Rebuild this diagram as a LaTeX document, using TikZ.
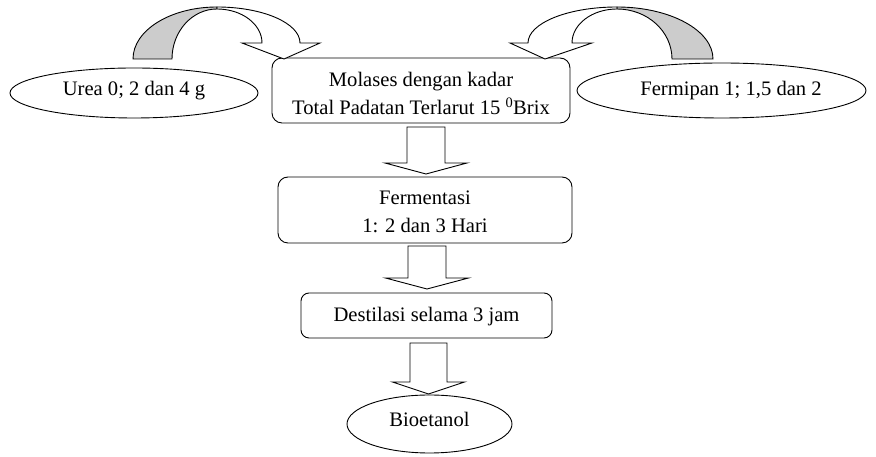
\documentclass[tikz,border=0pt]{standalone}
\usepackage{fontspec}
\setmainfont{Liberation Serif}
\usetikzlibrary{shapes.geometric}
\begin{document}
\begin{tikzpicture}[x=1pt,y=1pt,
  txtfont/.style={font=\fontsize{20.6}{28}\selectfont},
  proc/.style={draw, line width=0.9pt, rounded corners=10pt, align=center, inner sep=0pt, txtfont},
  oval/.style={draw, line width=0.9pt, ellipse, inner sep=0pt, txtfont},
  blk/.style={draw, fill=white, line width=0.9pt, line join=miter},
  backside/.style={draw, fill=black!20, line width=0.9pt},
  pics/downarrow/.style n args={4}{code={
    \draw[blk] (-#1,0) -- (-#1,-#3) -- (-#2,-#3) -- (0,-#4) -- (#2,-#3) -- (#1,-#3) -- (#1,0) -- cycle;}}]
\useasboundingbox (0,0) rectangle (876,457);

% process boxes
\node[proc, minimum width=298pt, minimum height=65pt, text height=49pt, text depth=0pt] (b1) at (421,366.5)
  {Molases dengan kadar\\Total Padatan Terlarut 15 \textsuperscript{0}Brix};
\node[proc, minimum width=294pt, minimum height=66pt, text height=46pt, text depth=0pt] (b2) at (425,247)
  {Fermentasi\\1: 2 dan 3 Hari};
\node[proc, rounded corners=8pt, minimum width=251pt, minimum height=45pt, text height=14pt, text depth=1pt] (b3) at (426.5,141.5)
  {Destilasi selama 3 jam};

% ellipses
\node[oval, minimum width=248pt, minimum height=50pt, text height=10pt, text depth=4pt] (urea) at (134,364)
  {Urea 0; 2 dan 4 g};
\node[oval, minimum width=289pt, minimum height=55pt, text height=14pt, text depth=3pt] (ferm) at (721.5,366.5)
  {\hspace*{19pt}Fermipan 1; 1,5 dan 2};
\node[oval, minimum width=165pt, minimum height=58pt, text height=12pt, text depth=6pt] (bio) at (429.5,33)
  {Bioetanol};

% block arrows between steps
\pic at (426,330) {downarrow={19}{41}{36}{47}};
\pic at (427,211) {downarrow={19}{41.5}{32}{43}};
\pic at (428.5,114) {downarrow={18.5}{36}{39}{51}};

% left curved arrow (urea -> b1)
\draw[backside] (133,398) arc[start angle=180, end angle=90, x radius=84, y radius=52]
  -- (217,448) arc[start angle=90, end angle=180, x radius=45, y radius=50] -- cycle;
\draw[blk] (217,450) arc[start angle=90, end angle=0, x radius=83, y radius=36]
  -- (320,414) -- (284,398) -- (242,414) -- (262,414)
  arc[start angle=0, end angle=90, x radius=45, y radius=34] -- cycle;

% right curved arrow (ferm -> b1)
\draw[backside] (713,398) arc[start angle=0, end angle=90, x radius=96, y radius=52]
  -- (617,448) arc[start angle=90, end angle=0, x radius=55, y radius=50] -- cycle;
\draw[blk] (617,450) arc[start angle=90, end angle=180, x radius=89, y radius=36]
  -- (510,414) -- (545,398) -- (592,414) -- (572,414)
  arc[start angle=180, end angle=90, x radius=45, y radius=34] -- cycle;
\end{tikzpicture}
\end{document}
